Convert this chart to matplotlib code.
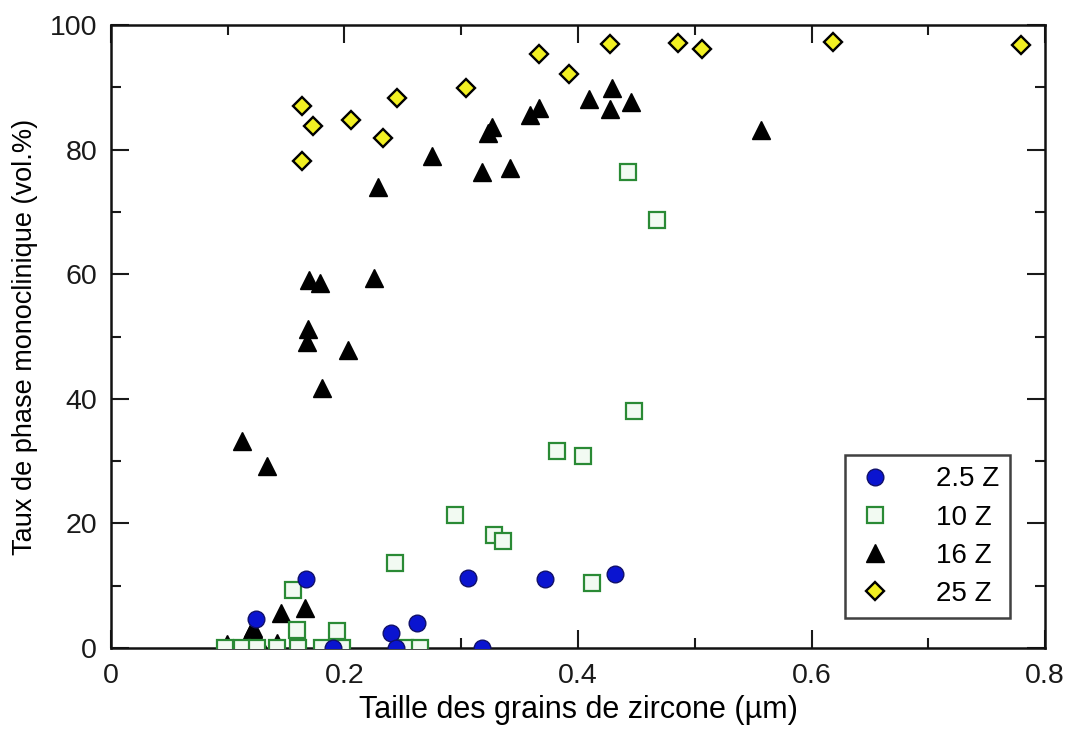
import numpy as np
import matplotlib.pyplot as plt
from matplotlib.ticker import MultipleLocator

plt.rcParams['font.family'] = ['Liberation Sans', 'DejaVu Sans']

# 2.5 Z
x_25 = [0.124, 0.167, 0.19, 0.240, 0.244, 0.262, 0.306, 0.318, 0.372, 0.432]
y_25 = [4.7, 11.0, 0.0, 2.4, 0.0, 4.0, 11.2, 0.0, 11.1, 11.9]

# 10 Z
x_10 = [0.098, 0.112, 0.125, 0.142, 0.160, 0.181, 0.198, 0.252, 0.265,
        0.156, 0.159, 0.194, 0.243, 0.295, 0.328, 0.336, 0.382, 0.404, 0.448,
        0.412, 0.443, 0.468]
y_10 = [0.0, 0.0, 0.0, 0.0, 0.0, 0.0, 0.0, 0.0, 0.0,
        9.3, 2.9, 2.7, 13.7, 21.3, 18.1, 17.1, 31.6, 30.9, 38.0,
        10.4, 76.4, 68.7]

# 16 Z
x_16 = [0.099, 0.120, 0.125, 0.122, 0.142, 0.146, 0.166, 0.112, 0.134, 0.168,
        0.169, 0.170, 0.179, 0.181, 0.203, 0.225, 0.229, 0.275, 0.318, 0.323,
        0.326, 0.342, 0.359, 0.367, 0.409, 0.427, 0.429, 0.445, 0.557]
y_16 = [0.6, 2.6, 1.6, 3.2, 0.8, 5.6, 6.5, 33.3, 29.2, 49.1,
        51.2, 59.1, 58.6, 41.7, 47.8, 59.4, 74.0, 79.0, 76.4, 82.7,
        83.6, 77.0, 85.6, 86.7, 88.1, 86.5, 89.9, 87.6, 83.2]

# 25 Z
x_25z = [0.164, 0.164, 0.173, 0.206, 0.233, 0.245, 0.304, 0.367, 0.392, 0.427,
         0.486, 0.506, 0.618, 0.779]
y_25z = [87.0, 78.1, 83.8, 84.7, 81.9, 88.3, 89.9, 95.3, 92.1, 97.0,
         97.1, 96.1, 97.2, 96.8]

x_ticks = [0, 0.2, 0.4, 0.6, 0.8]
x_ticklabels = ['0', '0.2', '0.4', '0.6', '0.8']

fig = plt.figure(figsize=(10.68, 7.29), dpi=100)
ax = fig.add_axes([0.1039, 0.1111, 0.8746, 0.8546])

ax.plot(x_16, y_16, linestyle='none', marker='^', ms=13, mfc='black', mec='black',
        zorder=3, label='16 Z')
ax.plot(x_10, y_10, linestyle='none', marker='s', ms=12, mfc='#f2faf2', mec='#2a8a35',
        mew=1.6, zorder=4, label='10 Z')
ax.plot(x_25, y_25, linestyle='none', marker='o', ms=12, mfc='#0a14d0', mec='#10106a',
        mew=1.0, zorder=5, label='2.5 Z')
ax.plot(x_25z, y_25z, linestyle='none', marker='D', ms=9.5, mfc='#f2f022', mec='black',
        mew=1.7, zorder=6, label='25 Z')

ax.set_xlim(0, 0.8)
ax.set_ylim(0, 100)
ax.set_xticks(x_ticks)
ax.set_xticklabels(x_ticklabels)
ax.xaxis.set_minor_locator(MultipleLocator(0.1))
ax.yaxis.set_major_locator(MultipleLocator(20))
ax.yaxis.set_minor_locator(MultipleLocator(10))

ax.tick_params(which='both', direction='in', top=True, right=True, width=1.5,
               labelsize=20.5, colors='#1a1a1a')
ax.tick_params(which='major', length=13)
ax.tick_params(which='minor', length=7)
ax.tick_params(axis='x', which='major', pad=11)
ax.tick_params(axis='y', which='major', pad=10)
for s in ax.spines.values():
    s.set_linewidth(1.8)
    s.set_color('#111111')

ax.set_xlabel('Taille des grains de zircone (µm)', fontsize=22)
ax.set_ylabel('Taux de phase monoclinique (vol.%)', fontsize=19.5)
ax.xaxis.set_label_coords(0.501, -0.076)
ax.yaxis.set_label_coords(-0.078, 0.5)

handles, labels = ax.get_legend_handles_labels()
order = [2, 1, 0, 3]
leg = ax.legend([handles[i] for i in order], [labels[i] for i in order],
                loc='lower right', bbox_to_anchor=(0.9625, 0.048), borderaxespad=0,
                fontsize=20, frameon=True, fancybox=False, edgecolor='#111111',
                handletextpad=1.55, borderpad=0.4, labelspacing=0.44,
                handlelength=1.3)
leg.get_frame().set_linewidth(1.8)

fig.savefig('out.png', dpi=100)
